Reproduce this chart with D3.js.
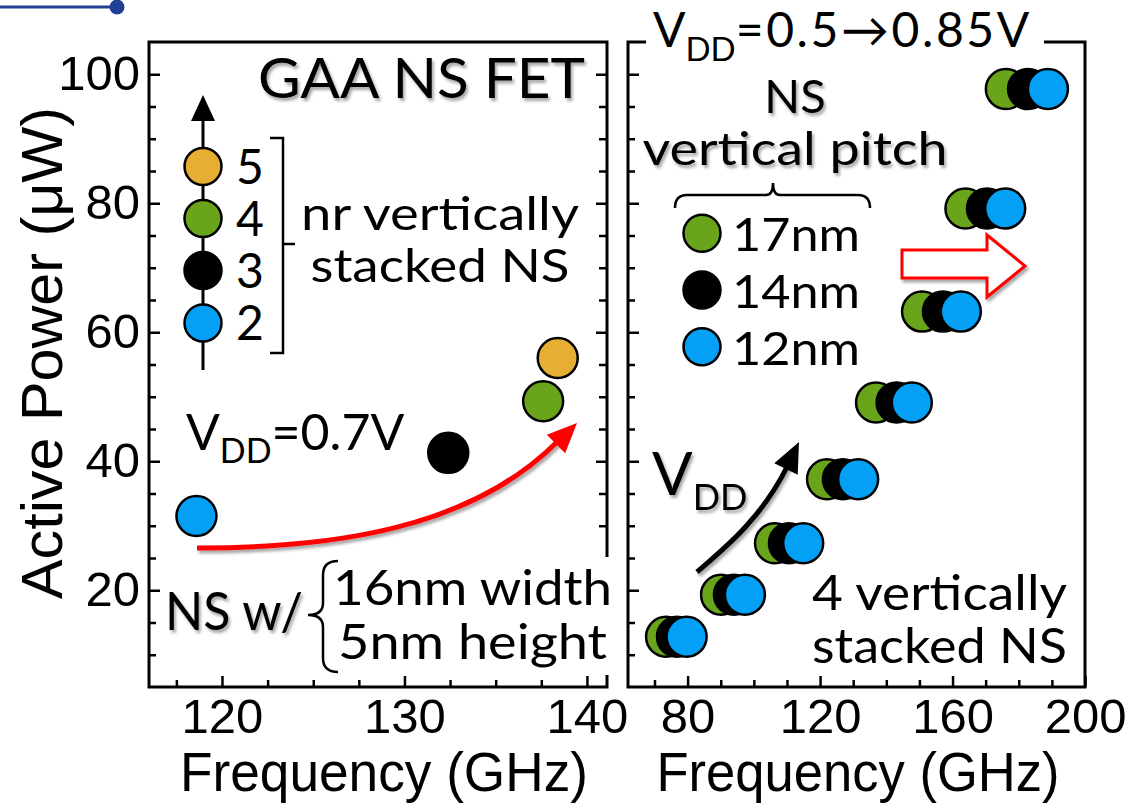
<!DOCTYPE html>
<html>
<head>
<meta charset="utf-8">
<script src="https://cdn.jsdelivr.net/npm/d3@7"></script>
<style>
body{margin:0;background:#fff;}
svg{display:block;}
</style>
</head>
<body>
<div id="chart"></div>
<script>
// ---- data ----
// left panel: nr vertically stacked NS, VDD=0.7V
var nrLabels = ["2", "3", "4", "5"];
var nrFreq = [118.6, 132.4, 137.6, 138.4];     // GHz
var nrPower = [31.5, 41.3, 49.3, 56.0];        // uW
var nrColors = ["#03a0f6", "#000000", "#69a41b", "#e6af33"];

// right panel: NS vertical pitch, VDD swept 0.5 -> 0.85V (8 steps)
var pitchLabels = ["17nm", "14nm", "12nm"];
var pitchColors = ["#69a41b", "#000000", "#03a0f6"];
var freq17 = [73.5, 90.1, 106.4, 122.1, 136.9, 150.8, 163.9, 176.1];
var power17 = [12.8, 19.3, 27.3, 37.2, 49.1, 63.2, 79.2, 97.7];
var freq14 = [76.8, 94.0, 110.6, 126.9, 143.1, 157.1, 170.4, 182.8];
var power14 = [12.8, 19.3, 27.3, 37.2, 49.1, 63.2, 79.2, 97.7];
var freq12 = [79.7, 97.3, 114.9, 131.5, 147.7, 162.5, 175.9, 188.8];
var power12 = [12.8, 19.3, 27.3, 37.2, 49.1, 63.2, 79.2, 97.7];

// ticks
var yMajor = [20, 40, 60, 80, 100];
var yMinor = [10, 15, 25, 30, 35, 45, 50, 55, 65, 70, 75, 85, 90, 95];
var xMajorL = [120, 130, 140];
var xMinorL = [117.5, 122.5, 125, 127.5, 132.5, 135, 137.5];
var xMajorR = [80, 120, 160, 200];
var xMinorR = [70, 90, 100, 110, 130, 140, 150, 170, 180, 190];

var W = 1131, H = 803;
var axisFont = "'Liberation Sans', Arial, sans-serif";
var noteFont = "Lato, 'Open Sans', sans-serif";

var svg = d3.select("#chart").append("svg")
  .attr("width", W)
  .attr("height", H);

var defs = svg.append("defs");
defs.append("filter").attr("id", "shadow")
  .attr("x", "-10%").attr("y", "-20%").attr("width", "130%").attr("height", "160%")
  .append("feDropShadow")
  .attr("dx", 2).attr("dy", 3).attr("stdDeviation", 1.6)
  .attr("flood-color", "#000").attr("flood-opacity", 0.35);

// panel boxes
var L = {x0: 149, x1: 607, y0: 42, y1: 687};
var R = {x0: 628, x1: 1085, y0: 42, y1: 687};

var y = d3.scaleLinear().domain([5, 105]).range([L.y1, L.y0]);
var xL = d3.scaleLinear().domain([116, 141.1]).range([L.x0, L.x1]);
var xR = d3.scaleLinear().domain([62, 200]).range([R.x0, R.x1]);

function cleanAxis(g, w) {
  g.select(".domain").remove();
  g.selectAll(".tick line").attr("stroke", "#000").attr("stroke-width", w || 2.5);
}

function addTicks(axis, tx, ty, vals, size, labels, pad) {
  var g = svg.append("g")
    .attr("transform", "translate(" + tx + "," + ty + ")")
    .call(axis.tickValues(vals).tickSize(-size).tickPadding(pad || 3)
      .tickFormat(labels ? d3.format("d") : ""));
  cleanAxis(g);
  g.selectAll("text")
    .style("font-family", axisFont)
    .style("font-size", "49px")
    .attr("fill", "#000");
  return g;
}

// ---- left panel ticks ----
addTicks(d3.axisLeft(y), L.x0, 0, yMajor, 11, true, 9);
addTicks(d3.axisLeft(y), L.x0, 0, yMinor, 7, false);
addTicks(d3.axisRight(y), L.x1, 0, yMajor, 11, false);
addTicks(d3.axisRight(y), L.x1, 0, yMinor, 8, false);
addTicks(d3.axisBottom(xL), 0, L.y1, xMajorL, 11, true, 11);
addTicks(d3.axisBottom(xL), 0, L.y1, xMinorL, 7, false);

// ---- right panel ticks ----
addTicks(d3.axisLeft(y), R.x0, 0, yMajor, 11, false);
addTicks(d3.axisLeft(y), R.x0, 0, yMinor, 7, false);
addTicks(d3.axisBottom(xR), 0, R.y1, xMajorR, 11, true, 11);
addTicks(d3.axisBottom(xR), 0, R.y1, xMinorR, 7, false);

// frames
[L, R].forEach(function(p) {
  svg.append("rect")
    .attr("x", p.x0).attr("y", p.y0)
    .attr("width", p.x1 - p.x0).attr("height", p.y1 - p.y0)
    .attr("fill", "none").attr("stroke", "#000").attr("stroke-width", 3);
});

// axis titles
svg.append("text")
  .attr("transform", "translate(62,353) rotate(-90)")
  .attr("text-anchor", "middle")
  .attr("textLength", 492).attr("lengthAdjust", "spacingAndGlyphs")
  .style("font-family", axisFont).style("font-size", "58px")
  .text("Active Power (\u03bcW)");

svg.append("text")
  .attr("x", 384).attr("y", 791).attr("text-anchor", "middle")
  .attr("textLength", 408).attr("lengthAdjust", "spacingAndGlyphs")
  .style("font-family", axisFont).style("font-size", "56px")
  .text("Frequency (GHz)");

svg.append("text")
  .attr("x", 858).attr("y", 791).attr("text-anchor", "middle")
  .attr("textLength", 403).attr("lengthAdjust", "spacingAndGlyphs")
  .style("font-family", axisFont).style("font-size", "56px")
  .text("Frequency (GHz)");

// little header mark top-left
svg.append("line").attr("x1", 0).attr("x2", 113).attr("y1", 7).attr("y2", 7)
  .attr("stroke", "#213f94").attr("stroke-width", 3);
svg.append("circle").attr("cx", 117).attr("cy", 7).attr("r", 7.5).attr("fill", "#213f94");

function note(x, yy, txt, size, len, anchor, shadow) {
  var t = svg.append("text")
    .attr("x", x).attr("y", yy)
    .attr("text-anchor", anchor || "start")
    .style("font-family", noteFont).style("font-size", size + "px")
    .attr("fill", "#000")
    .text(txt);
  if (len) t.attr("textLength", len).attr("lengthAdjust", "spacingAndGlyphs");
  if (shadow) t.attr("filter", "url(#shadow)");
  return t;
}

function vdd(x, yy, big, small, drop, rest, shadow, spacing) {
  var t = svg.append("text")
    .attr("x", x).attr("y", yy)
    .style("font-family", noteFont).style("font-size", big + "px");
  t.append("tspan").text("V");
  t.append("tspan").attr("dy", drop).style("font-size", small + "px").text("DD");
  if (rest) {
    var r = t.append("tspan").attr("dy", -drop).text(rest);
    if (spacing) r.style("letter-spacing", spacing + "px");
  }
  if (shadow) t.attr("filter", "url(#shadow)");
  return t;
}

function arrowHead(tip, base, half, color) {
  var dx = tip[0] - base[0], dy = tip[1] - base[1];
  var len = Math.sqrt(dx * dx + dy * dy);
  var nx = -dy / len * half, ny = dx / len * half;
  svg.append("polygon")
    .attr("points", [tip, [base[0] + nx, base[1] + ny], [base[0] - nx, base[1] - ny]].join(" "))
    .attr("fill", color);
}

// ---- left panel annotations ----
note(258, 98, "GAA NS FET", 56, 327, "start", true);

// legend stick with arrow
svg.append("line").attr("x1", 203).attr("x2", 203).attr("y1", 370).attr("y2", 118)
  .attr("stroke", "#000").attr("stroke-width", 3);
arrowHead([203, 95], [203, 121], 12, "#000");

var legL = svg.append("g");
var legY = [323, 270.5, 218.5, 166.5];
legL.selectAll("circle")
  .data(nrLabels)
  .enter().append("circle")
  .attr("cx", 203)
  .attr("cy", function(d, i) { return legY[i]; })
  .attr("r", 18.5)
  .attr("fill", function(d, i) { return nrColors[i]; })
  .attr("stroke", "#000").attr("stroke-width", 2.5);
legL.selectAll("text")
  .data(nrLabels)
  .enter().append("text")
  .attr("x", 236)
  .attr("y", function(d, i) { return legY[i] + 17; })
  .style("font-family", noteFont).style("font-size", "48px")
  .text(function(d) { return d; });

svg.append("path").attr("d", "M270,138 H283 V353 H270 M283,244 H295")
  .attr("fill", "none").attr("stroke", "#000").attr("stroke-width", 2.5);
note(440, 230, "nr vertically", 47, 278, "middle");
note(440, 282, "stacked NS", 47, 259, "middle");

vdd(186, 450, 50, 34, 13, "=0.7V");

// red curved arrow
svg.append("path").attr("d", "M197,548 C330,548 470,530 558,441")
  .attr("fill", "none").attr("stroke", "#ff0000").attr("stroke-width", 5)
  .attr("filter", "url(#shadow)");
arrowHead([577, 423], [556, 444], 13, "#ff0000");

// NS dimensions box (hides the right frame below)
svg.append("rect").attr("x", 331).attr("y", 557).attr("width", 284).attr("height", 118)
  .attr("fill", "#fff");
note(165, 630, "NS w/", 52, 138, "start", true);
svg.append("path")
  .attr("d", "M338,561 Q323,561 323,575 V603 Q323,615 308,615 Q323,615 323,627 V658 Q323,672 338,672")
  .attr("fill", "none").attr("stroke", "#000").attr("stroke-width", 2.5);
note(333, 605, "16nm width", 48, 279);
note(338, 659, "5nm height", 48, 269);

// ---- right panel annotations ----
svg.append("rect").attr("x", 646).attr("y", 5).attr("width", 398).attr("height", 50)
  .attr("fill", "#fff");
vdd(653, 47, 48, 33, 14, "=0.5\u21920.85V", false, 2.6);

note(795, 113, "NS", 47, null, "middle", true);
note(795, 165, "vertical pitch", 47, 305, "middle", true);
svg.append("path")
  .attr("d", "M675,208 Q675,195 687,195 H766 Q773,195 773,183 Q773,195 780,195 H858 Q870,195 870,208")
  .attr("fill", "none").attr("stroke", "#000").attr("stroke-width", 2.5);

var legRY = [233.3, 290, 346.7];
var legR = svg.append("g");
legR.selectAll("circle")
  .data(pitchLabels)
  .enter().append("circle")
  .attr("cx", 702)
  .attr("cy", function(d, i) { return legRY[i]; })
  .attr("r", 18.5)
  .attr("fill", function(d, i) { return pitchColors[i]; })
  .attr("stroke", "#000").attr("stroke-width", 2.5);
legR.selectAll("text")
  .data(pitchLabels)
  .enter().append("text")
  .attr("x", 732)
  .attr("y", function(d, i) { return legRY[i] + 18; })
  .attr("textLength", 128).attr("lengthAdjust", "spacingAndGlyphs")
  .style("font-family", noteFont).style("font-size", "47px")
  .text(function(d) { return d; });

// hollow red arrow
svg.append("polygon")
  .attr("points", "902,250 987,250 987,235 1025,266 987,297 987,278 902,278")
  .attr("fill", "#fff").attr("stroke", "#ff0000").attr("stroke-width", 3)
  .attr("filter", "url(#shadow)");

// VDD arrow
vdd(652, 495, 60, 36, 15, null, true);
svg.append("path").attr("d", "M697,572 C725,548 762,518 788,465")
  .attr("fill", "none").attr("stroke", "#000").attr("stroke-width", 5)
  .attr("filter", "url(#shadow)");
arrowHead([799, 442], [786, 469], 13, "#000");

note(812, 610, "4 vertically", 48, 255);
note(812, 663, "stacked NS", 48, 255);

// ---- data points ----
svg.append("g").selectAll("circle")
  .data(nrLabels)
  .enter().append("circle")
  .attr("cx", function(d, i) { return xL(nrFreq[i]); })
  .attr("cy", function(d, i) { return y(nrPower[i]); })
  .attr("r", 20)
  .attr("fill", function(d, i) { return nrColors[i]; })
  .attr("stroke", "#000").attr("stroke-width", 2.5);

var series = [
  {freq: freq17, power: power17, color: pitchColors[0]},
  {freq: freq14, power: power14, color: pitchColors[1]},
  {freq: freq12, power: power12, color: pitchColors[2]}
];
series.forEach(function(s) {
  svg.append("g").selectAll("circle")
    .data(s.freq)
    .enter().append("circle")
    .attr("cx", function(d) { return xR(d); })
    .attr("cy", function(d, i) { return y(s.power[i]); })
    .attr("r", 20)
    .attr("fill", s.color)
    .attr("stroke", "#000").attr("stroke-width", 2.5);
});
</script>
</body>
</html>
